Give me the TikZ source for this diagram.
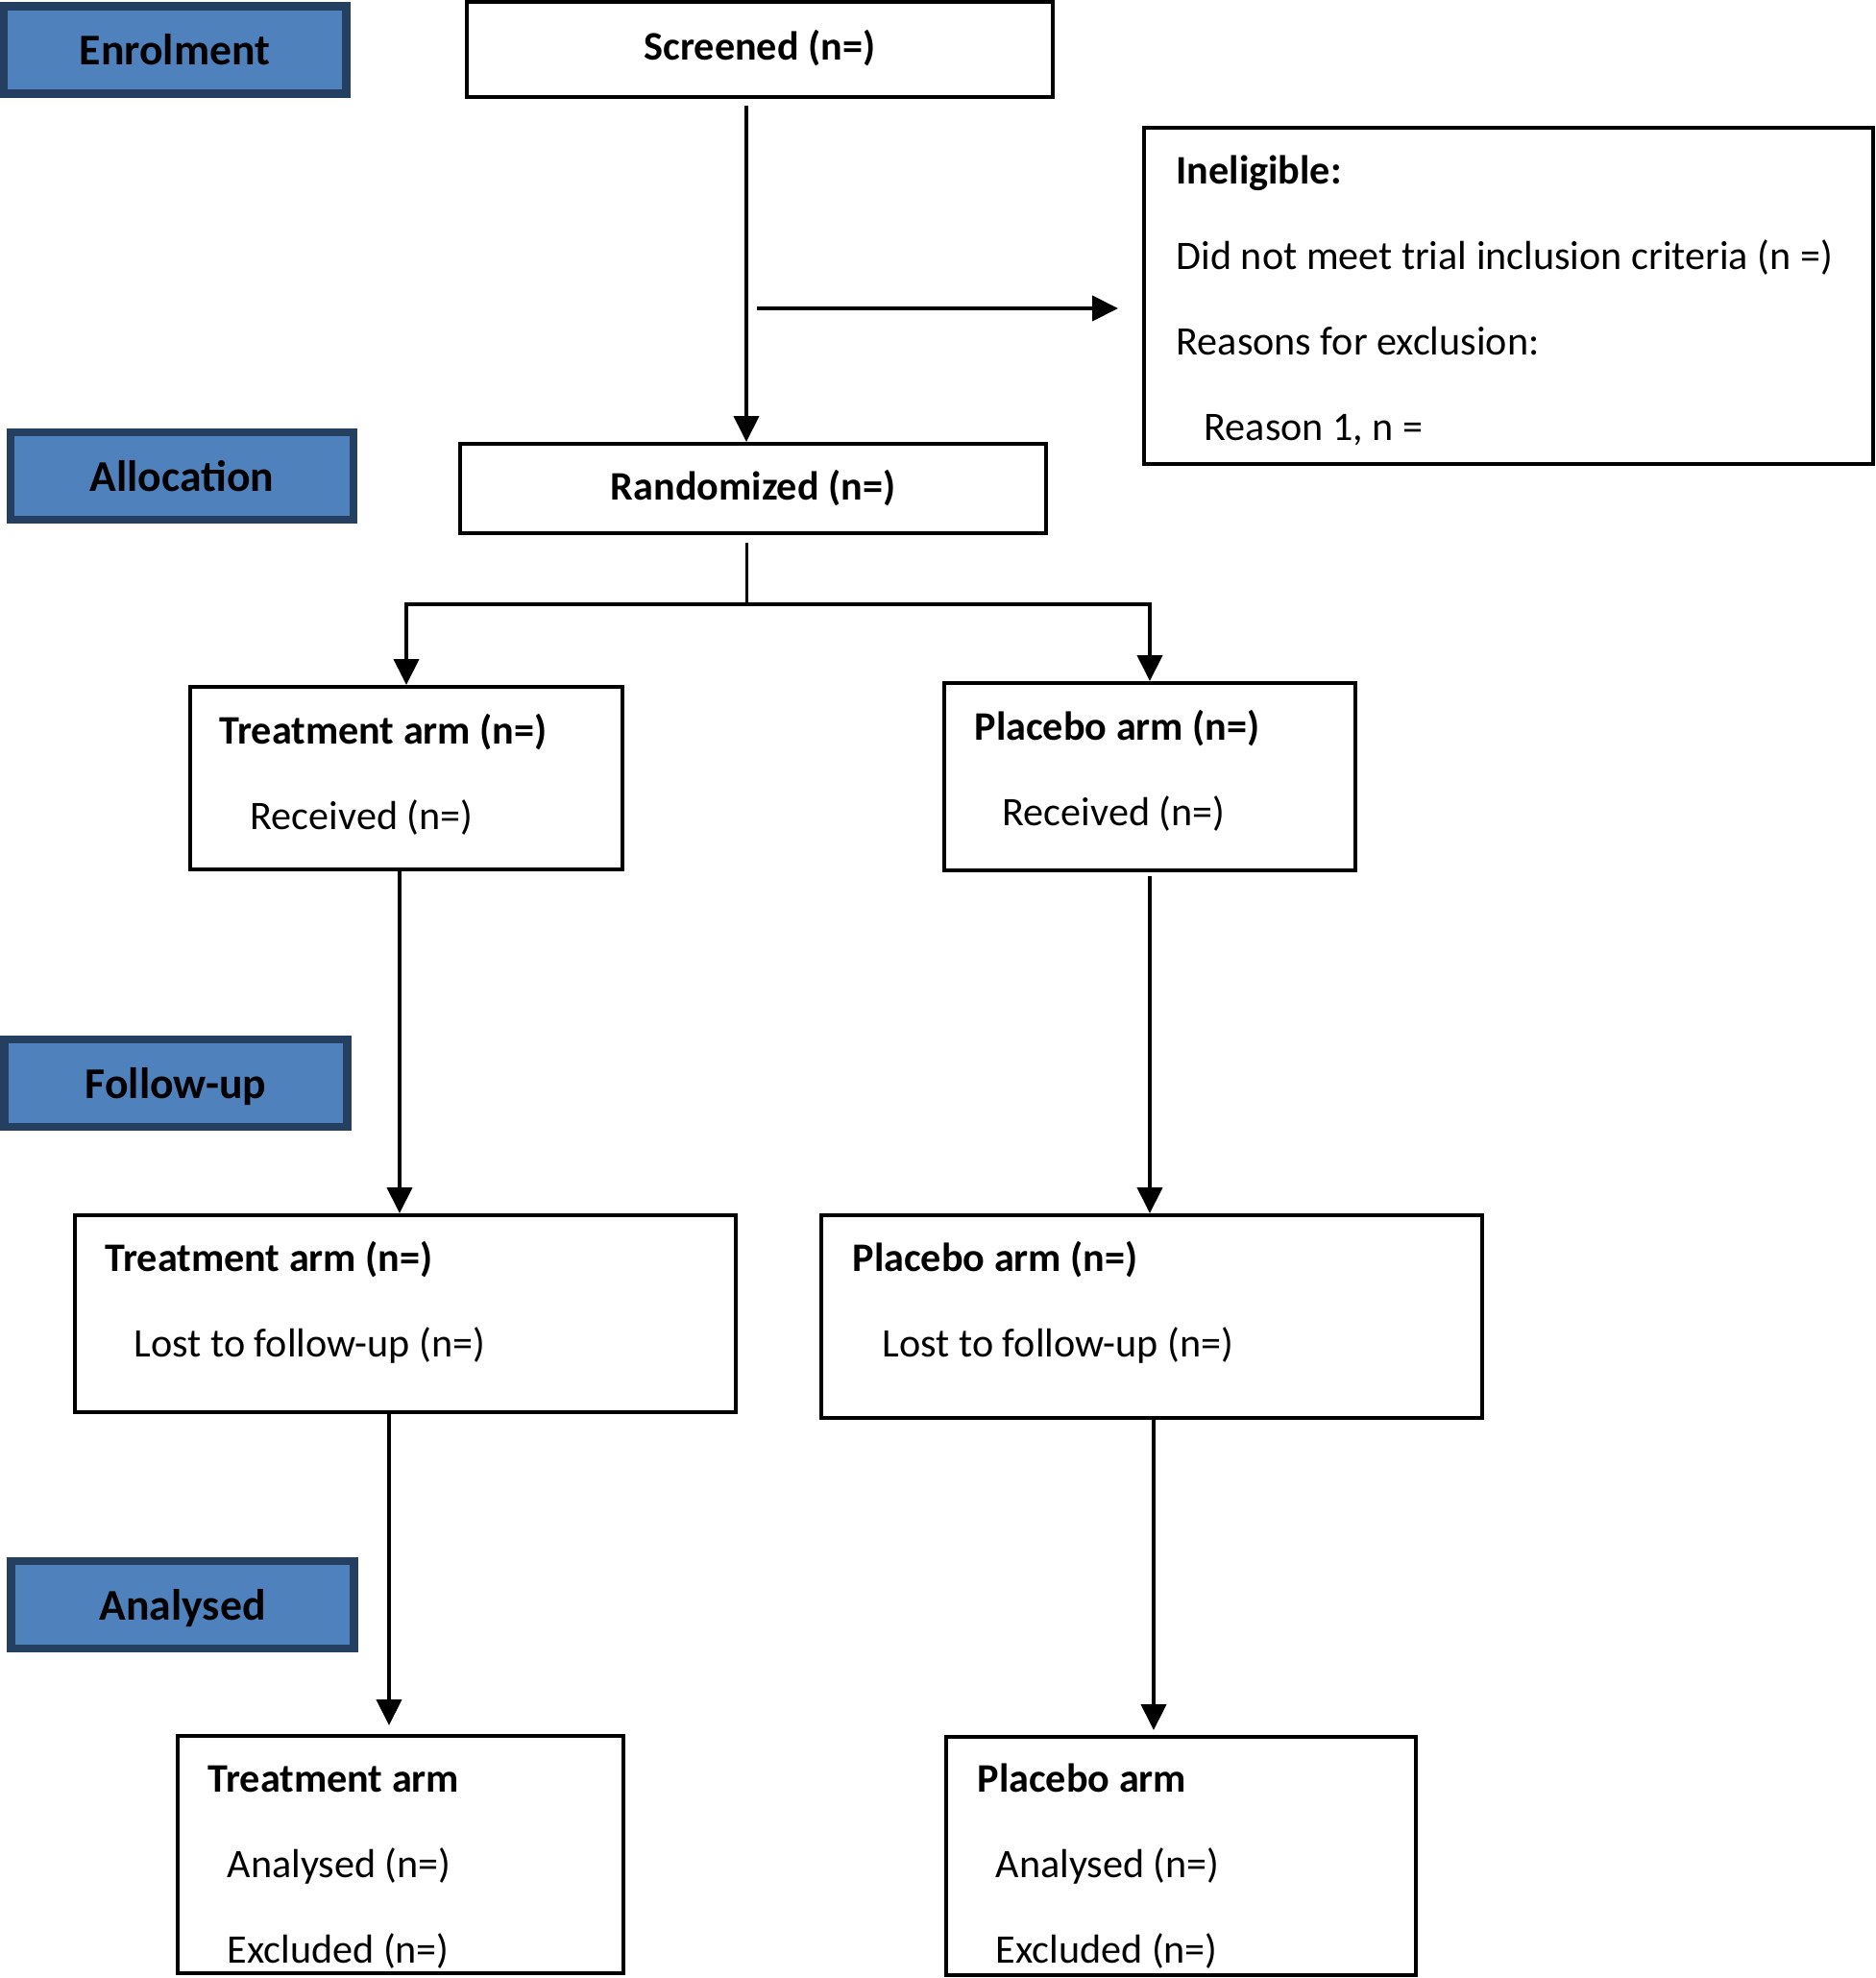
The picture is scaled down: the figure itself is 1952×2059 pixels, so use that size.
\documentclass[tikz,border=0pt]{standalone}
\usepackage{fontspec}
\setmainfont{Carlito}
\usepackage{tikz}
\usepackage{xcolor}
\usetikzlibrary{arrows.meta, positioning, calc}
\definecolor{StageBlue}{HTML}{4F81BD}
\definecolor{StageNavy}{HTML}{243F60}

\begin{document}
\begin{tikzpicture}[x=0.1mm, y=-0.1mm,
    stage/.style={rectangle, draw=StageNavy, fill=StageBlue, line width=0.85mm, minimum width=35.7mm, minimum height=9.1mm, inner sep=0pt, text height=3.9mm, text depth=0.8mm, font=\bfseries\fontsize{13}{15}\selectfont},
    box/.style={rectangle, draw, line width=0.4mm, inner sep=0pt},
    txt/.style={anchor=base west, inner sep=0pt, font=\fontsize{12}{14}\selectfont},
    txthead/.style={txt, font=\bfseries\fontsize{12}{14}\selectfont},
    arr/.style={-{Triangle[length=2.7mm, width=2.6mm]}, line width=0.4mm}]

        \useasboundingbox (0,0) rectangle (1952,2059);

        \node[stage] (enrol) at (182,52) {Enrolment};
        \node[stage] (alloc) at (189.5,495.5) {Allocation};
        \node[stage] (follow) at (183,1127.5) {Follow-up};
        \node[stage] (anal) at (190,1670.5) {Analysed};

        \node[box, minimum width=61mm, minimum height=9.9mm, text height=4.6mm, text depth=2.4mm, font=\bfseries\fontsize{12}{14}\selectfont] (screen) at (791,51.5) {Screened (n=)};

        \node[box, minimum width=75.9mm, minimum height=35mm] (inelig) at (1570.5,308) {};
        \node[txthead] (inelig-1) at ($(inelig.north west)+(35,60)$) {Ineligible:};
        \node[txt] (inelig-2) at ($(inelig-1.base west)+(0,89)$) {Did not meet trial inclusion criteria (n =)};
        \node[txt] (inelig-3) at ($(inelig-2.base west)+(0,89)$) {Reasons for exclusion:};
        \node[txt] (inelig-4) at ($(inelig-3.base west)+(29,89)$) {Reason 1, n =};

        \node[box, minimum width=61mm, minimum height=9.3mm, font=\bfseries\fontsize{12}{14}\selectfont] (rand) at (784,508.5) {Randomized (n=)};

        \node[box, minimum width=45mm, minimum height=19mm] (trtA) at (423,810) {};
        \node[txthead] (trtA-1) at ($(trtA.north west)+(32,61)$) {Treatment arm (n=)};
        \node[txt] (trtA-2) at ($(trtA-1.base west)+(32,89)$) {Received (n=)};

        \node[box, minimum width=42.8mm, minimum height=19.5mm] (plcA) at (1197,808.5) {};
        \node[txthead] (plcA-1) at ($(plcA.north west)+(33,61)$) {Placebo arm (n=)};
        \node[txt] (plcA-2) at ($(plcA-1.base west)+(29,89)$) {Received (n=)};

        \node[box, minimum width=68.8mm, minimum height=20.5mm] (trtF) at (422,1367.5) {};
        \node[txthead] (trtF-1) at ($(trtF.north west)+(33,60)$) {Treatment arm (n=)};
        \node[txt] (trtF-2) at ($(trtF-1.base west)+(30,89)$) {Lost to follow-up (n=)};

        \node[box, minimum width=68.8mm, minimum height=21.1mm] (plcF) at (1199,1370.5) {};
        \node[txthead] (plcF-1) at ($(plcF.north west)+(34,60)$) {Placebo arm (n=)};
        \node[txt] (plcF-2) at ($(plcF-1.base west)+(31,89)$) {Lost to follow-up (n=)};

        \node[box, minimum width=46.4mm, minimum height=24.7mm] (trtE) at (417,1930.5) {};
        \node[txthead] (trtE-1) at ($(trtE.north west)+(33,60)$) {Treatment arm};
        \node[txt] (trtE-2) at ($(trtE-1.base west)+(20,89)$) {Analysed (n=)};
        \node[txt] (trtE-3) at ($(trtE-2.base west)+(0,89)$) {Excluded (n=)};

        \node[box, minimum width=48.9mm, minimum height=24.8mm] (plcE) at (1229.5,1932) {};
        \node[txthead] (plcE-1) at ($(plcE.north west)+(34,59)$) {Placebo arm};
        \node[txt] (plcE-2) at ($(plcE-1.base west)+(19,89)$) {Analysed (n=)};
        \node[txt] (plcE-3) at ($(plcE-2.base west)+(0,89)$) {Excluded (n=)};

        \coordinate (side) at (788,321);
        \coordinate (fork) at (777,629);

        \draw[arr, shorten <=0.7mm] (screen.south -| fork) -- (rand.north -| fork);
        \draw[arr, shorten >=2.5mm] (side) -- (side -| inelig.west);

        \draw[line width=0.3mm, shorten <=0.8mm] (rand.south -| fork) -- (fork);
        \draw[arr] (fork) -| (trtA.north);
        \draw[arr] (fork) -| (plcA.north);

        \draw[arr] ([xshift=-0.7mm]trtA.south) -- ([xshift=-0.7mm]trtA.south |- trtF.north);
        \draw[arr, shorten <=0.4mm] (plcA.south) -- (plcA.south |- plcF.north);

        \draw[arr, shorten >=0.9mm] ([xshift=-1.7mm]trtF.south) -- ([xshift=-1.7mm]trtF.south |- trtE.north);
        \draw[arr, shorten >=0.5mm] ([xshift=0.2mm]plcF.south) -- ([xshift=0.2mm]plcF.south |- plcE.north);

    \end{tikzpicture}
\end{document}
